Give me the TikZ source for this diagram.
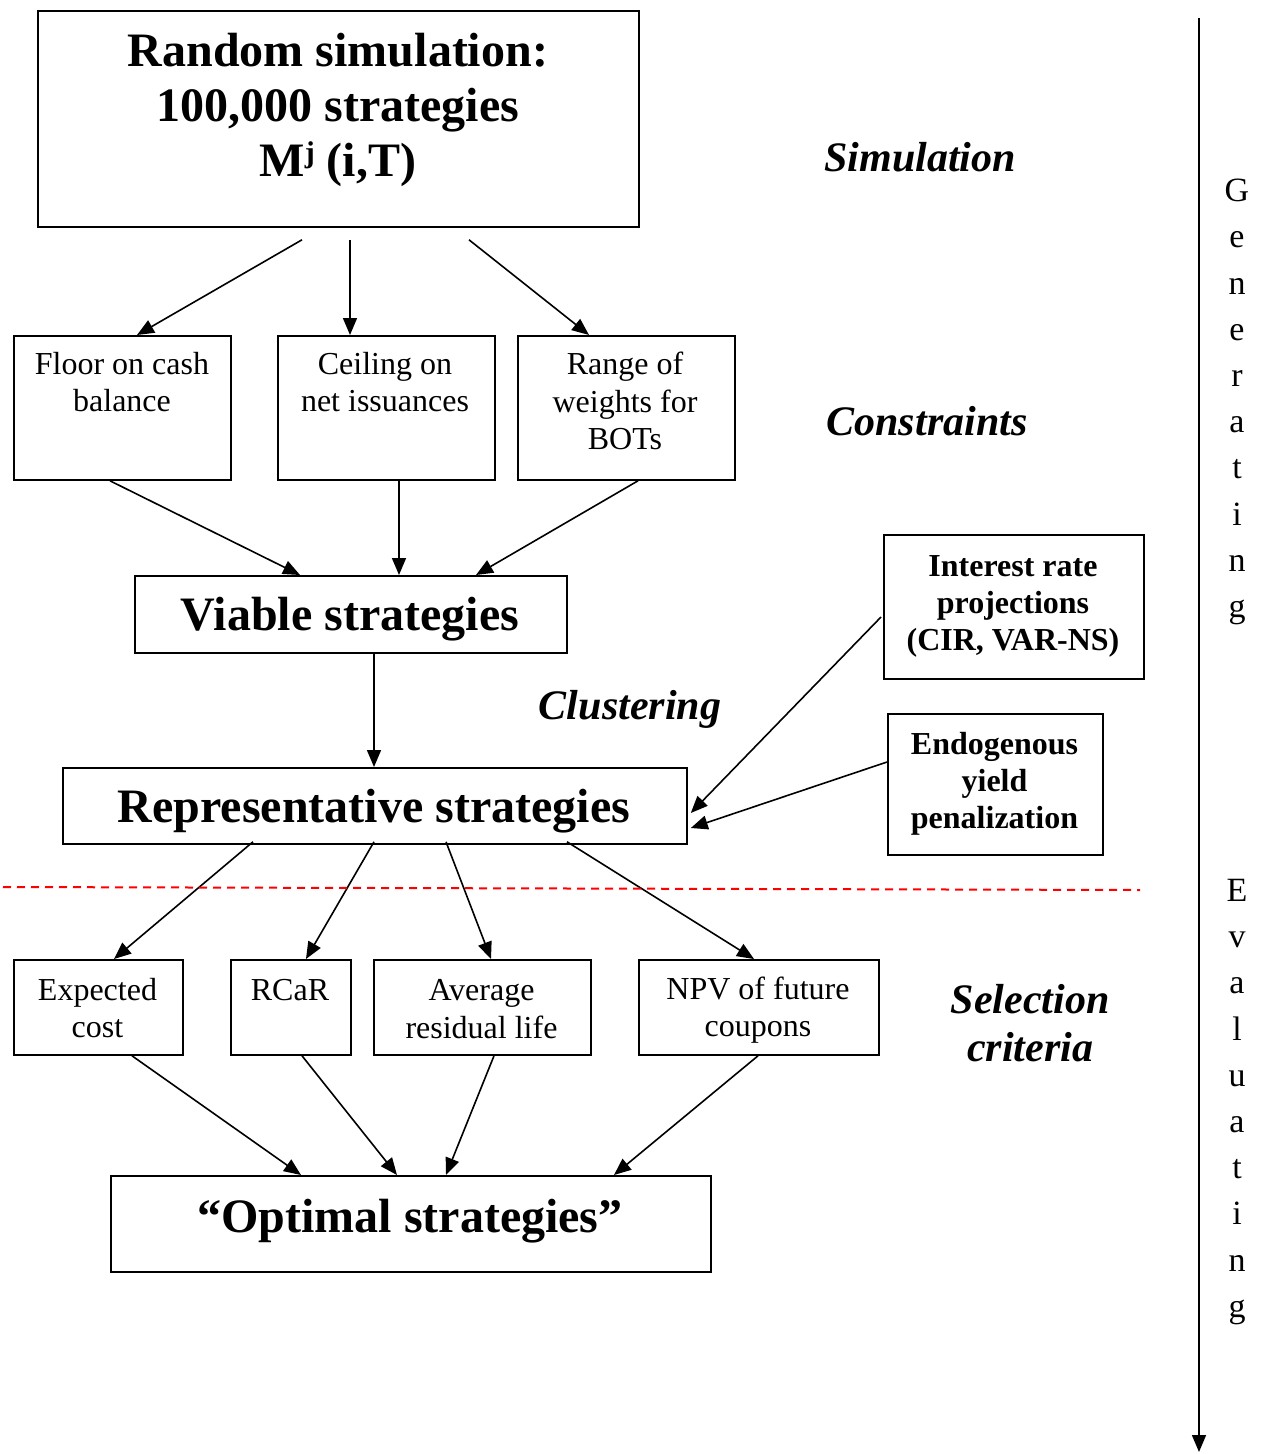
\documentclass[tikz,border=0pt]{standalone}
\usepackage{fontspec}
\setmainfont{Liberation Serif}
\usetikzlibrary{arrows.meta,calc}
\begin{document}
\begin{tikzpicture}[x=1pt,y=-1pt,
 box/.style={draw,line width=1.8pt,inner sep=0pt,anchor=north west},
 arr/.style={line width=1.6pt,-{Triangle[length=17pt,width=14pt]}},
 big/.style={font=\fontsize{48}{55}\selectfont\bfseries,align=center,inner sep=0pt},
 med/.style={font=\fontsize{32}{37.5}\selectfont,align=center,inner sep=0pt},
 medb/.style={font=\fontsize{32}{37}\selectfont\bfseries,align=center,inner sep=0pt},
 lab/.style={font=\fontsize{42}{48}\selectfont\bfseries\itshape,align=center,inner sep=0pt},
 vert/.style={font=\fontsize{34}{46.2}\selectfont,align=center,inner sep=0pt},
 reddash/.style={draw=red,line width=2pt,dash pattern=on 8pt off 6pt}]
\useasboundingbox (0,0) rectangle (1264,1454);
% boxes
\node[box,minimum width=601pt,minimum height=216pt] (sim) at (37,10) {};
\node[box,minimum width=217pt,minimum height=144pt] (floor) at (13,335) {};
\node[box,minimum width=217pt,minimum height=144pt] (ceil) at (277,335) {};
\node[box,minimum width=217pt,minimum height=144pt] (range) at (517,335) {};
\node[box,minimum width=432pt,minimum height=77pt] (viable) at (134,575) {};
\node[box,minimum width=260pt,minimum height=144pt] (interest) at (883,534) {};
\node[box,minimum width=215pt,minimum height=141pt] (endo) at (887,713) {};
\node[box,minimum width=624pt,minimum height=76pt] (rep) at (62,767) {};
\node[box,minimum width=169pt,minimum height=95pt] (expected) at (13,959) {};
\node[box,minimum width=120pt,minimum height=95pt] (rcar) at (230,959) {};
\node[box,minimum width=217pt,minimum height=95pt] (average) at (373,959) {};
\node[box,minimum width=240pt,minimum height=95pt] (npv) at (638,959) {};
\node[box,minimum width=600pt,minimum height=96pt] (opt) at (110,1175) {};
% texts
\node[big] (simtxt) at (338,110) {Random simulation:\\100,000 strategies\\M\raisebox{0.62ex}{\fontsize{30}{30}\selectfont j} (i,T)};
\node[med] (floortxt) at (122,382) {Floor on cash\\balance};
\node[med] (ceiltxt) at (385,382) {Ceiling on\\net issuances};
\node[med] (rangetxt) at (625,401) {Range of\\weights for\\BOTs};
\node[big] (viabletxt) at (350,619) {Viable strategies};
\node[medb] (inttxt) at (1013,606) {Interest rate\\projections\\(CIR, VAR-NS)};
\node[medb] (endotxt) at (994.5,784) {Endogenous\\yield\\penalization};
\node[big] (reptxt) at (374,811) {Representative strategies};
\node[med] (exptxt) at (97.5,1008) {Expected\\cost};
\node[med] (rcartxt) at (290,990) {RCaR};
\node[med] (avgtxt) at (481.5,1009) {Average\\residual life};
\node[med] (npvtxt) at (758,1010) {NPV of future\\coupons};
\node[big] (opttxt) at (410,1221) {“Optimal strategies”};
% side labels
\node[lab] (lsim) at (920,157) {Simulation};
\node[lab] (lcon) at (927,421) {Constraints};
\node[lab] (lclu) at (630,709) {Clustering};
\node[lab] (lsel) at (1030,1023) {Selection\\criteria};
\node[vert] (gen) at (1237,402) {G\\e\\n\\e\\r\\a\\t\\i\\n\\g};
\node[vert] (eva) at (1237,1102) {E\\v\\a\\l\\u\\a\\t\\i\\n\\g};
% connectors
\draw[arr] ($(sim.south west)+(265,12)$) -- ($(floor.north west)+(124,0)$);
\draw[arr] ($(sim.south west)+(313,12)$) -- ($(ceil.north west)+(73,0)$);
\draw[arr] ($(sim.south west)+(432,12)$) -- ($(range.north west)+(72,0)$);
\draw[arr] ($(floor.south west)+(97,0)$) -- ($(viable.north west)+(166,0)$);
\draw[arr] ($(ceil.south west)+(122,0)$) -- ($(viable.north west)+(265,0)$);
\draw[arr] ($(range.south west)+(121,0)$) -- ($(viable.north west)+(342,0)$);
\draw[arr] ($(viable.south west)+(240,0)$) -- ($(rep.north west)+(312,0)$);
\draw[arr] ($(interest.north west)+(-2,83)$) -- ($(rep.north east)+(3,46)$);
\draw[arr] ($(endo.north west)+(0,49)$) -- ($(rep.north east)+(3,61)$);
\draw[arr] ($(rep.south west)+(191,-3)$) -- ($(expected.north west)+(101,0)$);
\draw[arr] ($(rep.south west)+(312,-3)$) -- ($(rcar.north west)+(76,0)$);
\draw[arr] ($(rep.south west)+(384,-3)$) -- ($(average.north west)+(118,0)$);
\draw[arr] ($(rep.south west)+(505,-3)$) -- ($(npv.north west)+(116,0)$);
\draw[arr] ($(expected.south west)+(119,0)$) -- ($(opt.north west)+(191,0)$);
\draw[arr] ($(rcar.south west)+(72,0)$) -- ($(opt.north west)+(287,0)$);
\draw[arr] ($(average.south west)+(121,0)$) -- ($(opt.north west)+(336,0)$);
\draw[arr] ($(npv.south west)+(120,0)$) -- ($(opt.north west)+(504,0)$);
% red divider and time arrow
\coordinate (dl) at (3,887);
\coordinate (dr) at (1140,890);
\draw[reddash] (dl) -- (dr);
\coordinate (ttop) at (1199,18);
\coordinate (tbot) at (1199,1452);
\draw[arr] (ttop) -- (tbot);
\end{tikzpicture}
\end{document}
